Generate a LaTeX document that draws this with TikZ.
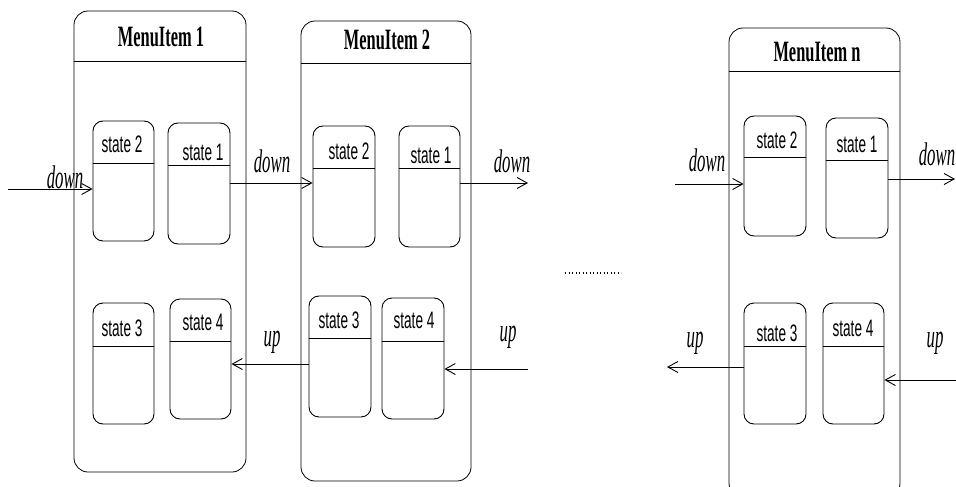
\documentclass[tikz,border=0pt]{standalone}
\usepackage{fontspec}
\setmainfont{Liberation Serif}
\setsansfont{Liberation Sans}
\usetikzlibrary{arrows.meta,fit}

% tall, narrow lettering
\newcommand{\ttltext}[1]{\scalebox{1}[1.8]{\fontsize{16.4}{18}\selectfont\bfseries #1}}
\newcommand{\sttext}[1]{\scalebox{1}[1.75]{\fontsize{13.6}{15}\selectfont\sffamily #1}}
\newcommand{\evtext}[1]{\scalebox{1}[1.95]{\fontsize{16.8}{18}\selectfont\itshape #1}}

\tikzset{
  menubox/.style={draw,rounded corners=14pt,inner sep=0pt,line width=0.8pt},
  stbox/.style={draw,rounded corners=10pt,inner sep=0pt,line width=0.9pt},
  flow/.style={-{Straight Barb[length=10pt,width=11pt]},line width=0.9pt},
  evlabel/.style={inner sep=0pt},
}

% box with a header line: style, name, corners, split, label position, label
\newcommand{\hdrbox}[9]{%
  \node[#1,fit={(#3) (#4)}] (#2) {};
  \draw[line width=0.9pt] (#2.west |- 0,#5) -- (#2.east |- 0,#5);
  \node[inner sep=0pt] (#2-t) at (#6,#7) {#8{#9}};
}

\begin{document}
\begin{tikzpicture}[x=1pt,y=-1pt]

  \useasboundingbox (0,0) rectangle (956,487);

  % menu items

  \hdrbox{menubox}{m1}{74,11}{246,472}{61}{161}{37}{\ttltext}{MenuItem 1}
  \hdrbox{menubox}{m2}{301,21}{471,481}{63}{387}{40}{\ttltext}{MenuItem 2}
  \hdrbox{menubox}{mn}{729,28}{900,497}{71}{817}{52}{\ttltext}{MenuItem n}

  % states of item 1

  \hdrbox{stbox}{a2}{93,121}{154,241}{163}{122}{144}{\sttext}{state 2}
  \hdrbox{stbox}{a1}{168,123}{230,244}{165}{203}{152}{\sttext}{state 1}
  \hdrbox{stbox}{a3}{93,303}{154,424}{346}{122}{328}{\sttext}{state 3}
  \hdrbox{stbox}{a4}{170,299}{231,419}{341}{203}{322}{\sttext}{state 4}

  % states of item 2

  \hdrbox{stbox}{b2}{313,126}{375,247}{168}{349}{151}{\sttext}{state 2}
  \hdrbox{stbox}{b1}{399,126}{460,247}{168}{431}{155}{\sttext}{state 1}
  \hdrbox{stbox}{b3}{309,296}{371,417}{338}{339}{320}{\sttext}{state 3}
  \hdrbox{stbox}{b4}{382,298}{444,419}{341}{414}{320}{\sttext}{state 4}

  % states of item n

  \hdrbox{stbox}{n2}{744,116}{806,236}{157}{777}{140}{\sttext}{state 2}
  \hdrbox{stbox}{n1}{826,118}{888,238}{160}{857}{144}{\sttext}{state 1}
  \hdrbox{stbox}{n3}{744,303}{806,424}{346}{777}{333}{\sttext}{state 3}
  \hdrbox{stbox}{n4}{823,303}{884,424}{346}{853}{328}{\sttext}{state 4}

  % loose ends of the chain

  \coordinate (in1) at (8,189);
  \coordinate (out2) at (528,183);
  \coordinate (up2) at (528,369);
  \coordinate (inn) at (675,184);
  \coordinate (outn) at (955,179);
  \coordinate (upn) at (667,367);
  \coordinate (upin) at (960,380);

  % down transitions

  \draw[flow] (in1) -- (a2.west |- in1);
  \draw[flow] (a1.east |- 0,183) -- (b2.west |- 0,183);
  \draw[flow] (b1.east |- out2) -- (out2);
  \draw[flow] (inn) -- (n2.west |- inn);
  \draw[flow] (n1.east |- outn) -- (outn);

  \node[evlabel] (d1) at (65,177) {\evtext{down}};
  \node[evlabel] (d2) at (272,161) {\evtext{down}};
  \node[evlabel] (d3) at (512,161) {\evtext{down}};
  \node[evlabel] (d4) at (707,160) {\evtext{down}};
  \node[evlabel] (d5) at (937,154) {\evtext{down}};

  % up transitions

  \draw[flow] (b3.west |- 0,364) -- (a4.east |- 0,364);
  \draw[flow] (up2) -- (b4.east |- up2);
  \draw[flow] (n3.west |- upn) -- (upn);
  \draw[flow] (upin) -- (n4.east |- upin);

  \node[evlabel] (u1) at (272,342) {\evtext{up}};
  \node[evlabel] (u2) at (508,337) {\evtext{up}};
  \node[evlabel] (u3) at (695,343) {\evtext{up}};
  \node[evlabel] (u4) at (935,343) {\evtext{up}};

  % items in between

  \draw[line width=1.3pt,dash pattern=on 1.3pt off 2.2pt] (565,273) -- (621,273);

\end{tikzpicture}
\end{document}
